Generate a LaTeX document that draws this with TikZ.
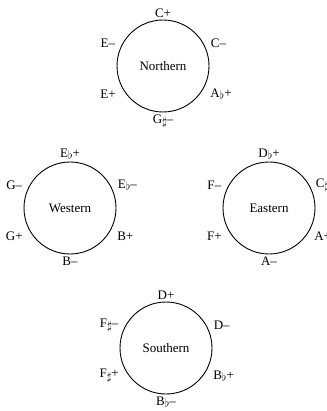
\documentclass[tikz,border=0pt]{standalone}
\usepackage{fontspec}
\setmainfont{Liberation Serif}
\usetikzlibrary{positioning}
\newcommand{\fl}{\raisebox{-0.35ex}{$\flat$}}
\newcommand{\shp}{\raisebox{-0.45ex}{$\sharp$}}
\tikzset{
  key/ring/.style={
    circle,
    draw=black,
    line width=0.9pt,
    minimum size=92pt,
    inner sep=0pt,
    font=\fontsize{13}{15}\selectfont
  },
  key/label/.style={inner sep=1pt, font=\fontsize{13}{15}\selectfont}
}

\begin{document}
\begin{tikzpicture}[x=1pt,y=-1pt]
  \useasboundingbox (0,0) rectangle (326,411);
  % northern ring
  \node[key/ring] (north) at (163,66) {Northern};
  \node[key/label,above=1pt of north.north] (nCp) {C+};
  \node[key/label,right=6pt of north.29] (nCm) {C–};
  \node[key/label,right=9pt of north.-37] (nAp) {A\fl+};
  \node[key/label,below=1pt of north.south] (nGm) {G\shp–};
  \node[key/label,left=9pt of north.217] (nEp) {E+};
  \node[key/label,left=6pt of north.151] (nEm) {E–};
  % western ring
  \node[key/ring] (west) at (70,208) {Western};
  \node[key/label,above=1pt of west.north] (wEp) {E\fl+};
  \node[key/label,right=6pt of west.29] (wEm) {E\fl–};
  \node[key/label,right=9pt of west.-37] (wBp) {B+};
  \node[key/label,below=1pt of west.south] (wBm) {B–};
  \node[key/label,left=9pt of west.217] (wGp) {G+};
  \node[key/label,left=6pt of west.151] (wGm) {G–};
  % eastern ring
  \node[key/ring] (east) at (269,208) {Eastern};
  \node[key/label,above=1pt of east.north] (eDp) {D\fl+};
  \node[key/label,right=5pt of east.29] (eCm) {C\shp–};
  \node[key/label,right=7pt of east.-37] (eAp) {A+};
  \node[key/label,below=1pt of east.south] (eAm) {A–};
  \node[key/label,left=9pt of east.217] (eFp) {F+};
  \node[key/label,left=6pt of east.151] (eFm) {F–};
  % southern ring
  \node[key/ring] (south) at (166,348) {Southern};
  \node[key/label,above=1pt of south.north] (sDp) {D+};
  \node[key/label,right=6pt of south.29] (sDm) {D–};
  \node[key/label,right=9pt of south.-37] (sBp) {B\fl+};
  \node[key/label,below=1pt of south.south] (sBm) {B\fl–};
  \node[key/label,left=9pt of south.217] (sFp) {F\shp+};
  \node[key/label,left=6pt of south.151] (sFm) {F\shp–};
\end{tikzpicture}
\end{document}
